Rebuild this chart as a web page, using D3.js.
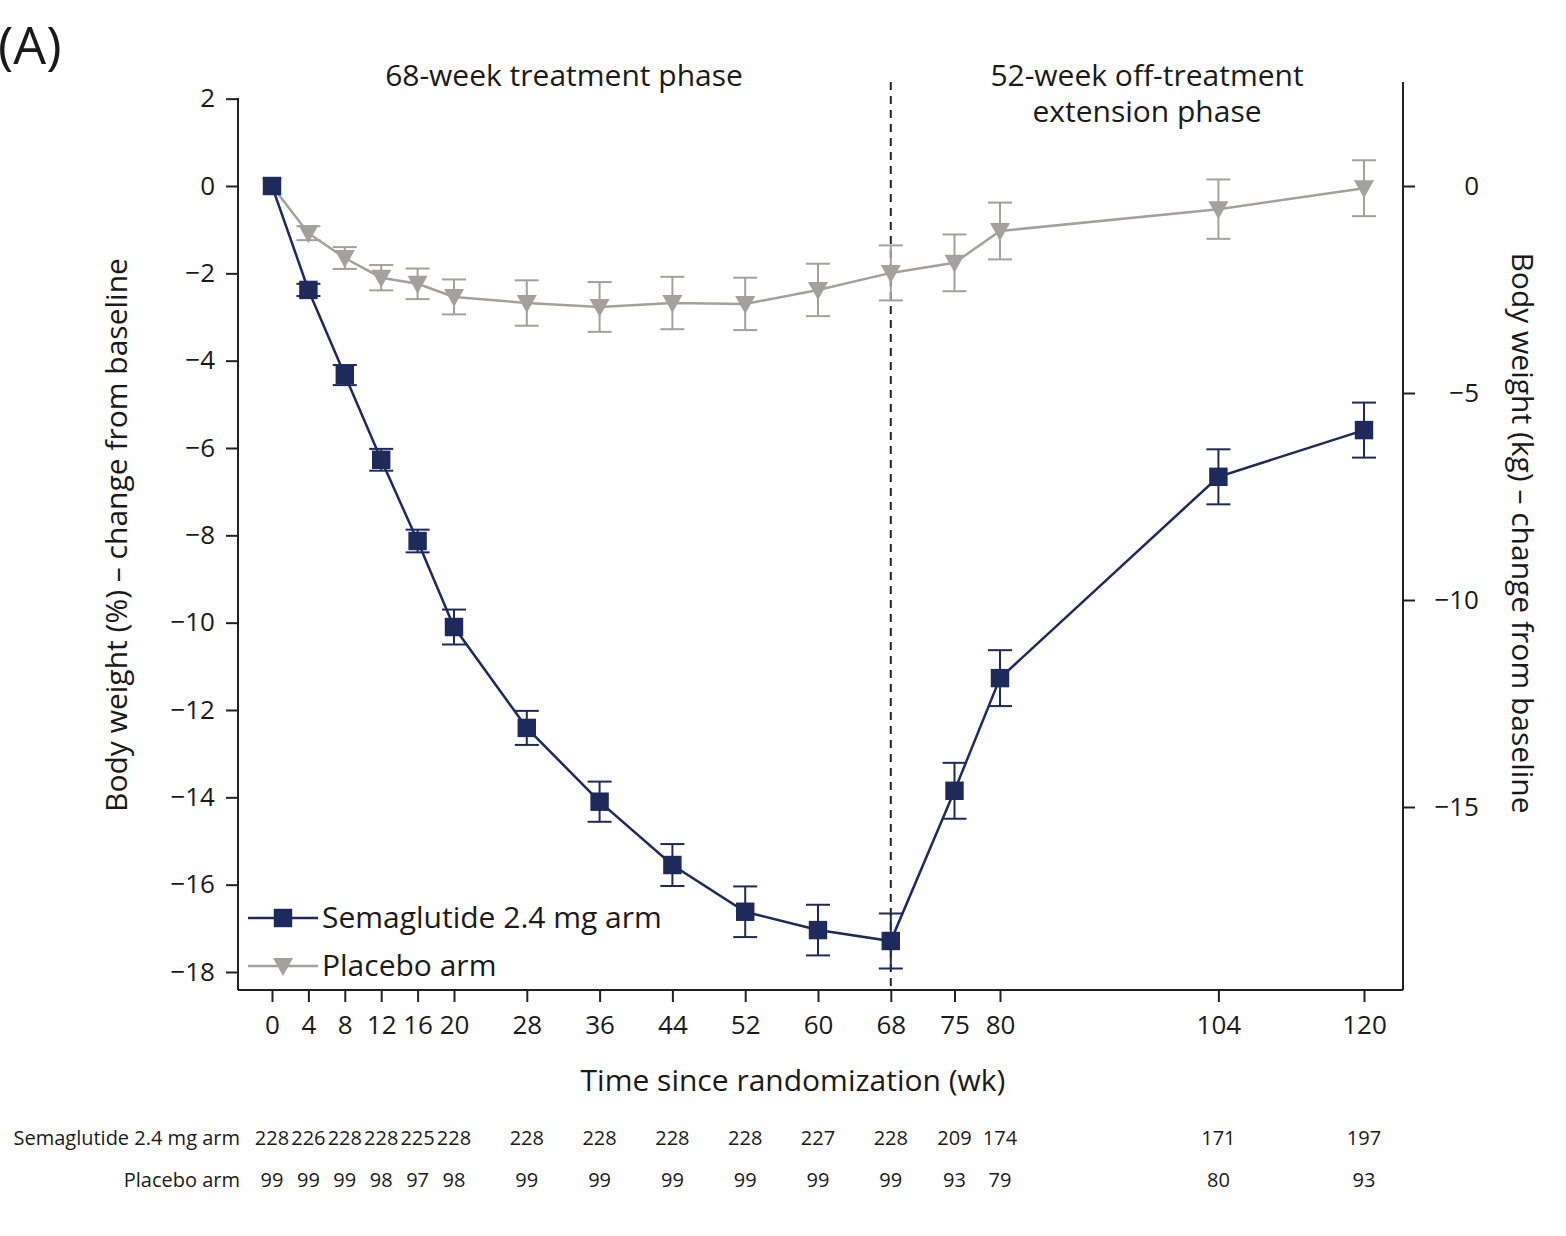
<!DOCTYPE html>
<html><head><meta charset="utf-8">
<script src="https://cdn.jsdelivr.net/npm/d3@7"></script>
<style>body{margin:0;background:#fff}text{font-family:"Open Sans","Noto Sans",sans-serif;fill:#1a1a1a}</style>
</head><body><svg id="c" width="1566" height="1236"></svg>
<script>
// weeks and values
var weeks = [0, 4, 8, 12, 16, 20, 28, 36, 44, 52, 60, 68, 75, 80, 104, 120];
var semaMean = [0, -2.38, -4.33, -6.27, -8.13, -10.1, -12.41, -14.1, -15.55, -16.62, -17.04, -17.29, -13.85, -11.27, -6.66, -5.59];
var semaErr = [0, 0.14, 0.23, 0.25, 0.26, 0.4, 0.39, 0.46, 0.48, 0.58, 0.58, 0.63, 0.64, 0.64, 0.63, 0.63];
var placMean = [0, -1.08, -1.65, -2.1, -2.24, -2.54, -2.68, -2.77, -2.68, -2.7, -2.38, -1.99, -1.76, -1.03, -0.53, -0.05];
var placErr = [0, 0.16, 0.25, 0.29, 0.35, 0.4, 0.52, 0.57, 0.6, 0.6, 0.6, 0.63, 0.65, 0.65, 0.68, 0.64];
var semaN = [228, 226, 228, 228, 225, 228, 228, 228, 228, 228, 227, 228, 209, 174, 171, 197];
var placN = [99, 99, 99, 98, 97, 98, 99, 99, 99, 99, 99, 99, 93, 79, 80, 93];
var leftTicks = [2, 0, -2, -4, -6, -8, -10, -12, -14, -16, -18];
var rightTicks = [0, -5, -10, -15];

var navy = "#1f2a5c", grey = "#a3a19e";
var svg = d3.select("#c");
var x = d3.scaleLinear().domain([0, 120]).range([272, 1364]);
var y = d3.scaleLinear().domain([0, -18]).range([186, 972]);
var yKg = d3.scaleLinear().domain([0, -15]).range([186, 807]);

//----- frame and axes -----
svg.append("line").attr("x1", 238).attr("x2", 1403).attr("y1", 990).attr("y2", 990).attr("stroke", "#222").attr("stroke-width", 2);
svg.append("line").attr("x1", 238).attr("x2", 238).attr("y1", 98).attr("y2", 990).attr("stroke", "#222").attr("stroke-width", 2);
svg.append("line").attr("x1", 1403).attr("x2", 1403).attr("y1", 82).attr("y2", 990).attr("stroke", "#222").attr("stroke-width", 2);

function minus(d){ return String(d).replace("-", "\u2212"); }
var la = svg.append("g").attr("transform", "translate(238,0)").call(d3.axisLeft(y).tickValues(leftTicks).tickSize(12).tickFormat(minus));
la.select(".domain").remove();
var ra = svg.append("g").attr("transform", "translate(1403,0)").call(d3.axisRight(yKg).tickValues(rightTicks).tickSize(12).tickFormat(minus));
ra.select(".domain").remove();
var ba = svg.append("g").attr("transform", "translate(0,990)").call(d3.axisBottom(x).tickValues(weeks).tickSize(12).tickPadding(14));
ba.select(".domain").remove();
[la, ra, ba].forEach(function(a){
  a.selectAll("line").attr("stroke", "#222").attr("stroke-width", 2);
  a.selectAll("text").style("font-size", "26px").attr("fill", "#1a1a1a");
});
la.selectAll("text").attr("dx", "-8");
ra.selectAll("text").attr("x", 76).attr("text-anchor", "end");

svg.append("text").attr("x", 793).attr("y", 1091).attr("text-anchor", "middle").style("font-size", "30px").text("Time since randomization (wk)");
svg.append("text").attr("transform", "translate(127,535) rotate(-90)").attr("text-anchor", "middle").style("font-size", "30px").text("Body weight (%) \u2013 change from baseline");
svg.append("text").attr("transform", "translate(1512,533) rotate(90)").attr("text-anchor", "middle").style("font-size", "30px").text("Body weight (kg) \u2013 change from baseline");

svg.append("text").attr("x", -2).attr("y", 64).style("font-size", "52px").text("(A)");
svg.append("text").attr("x", 564).attr("y", 86).attr("text-anchor", "middle").style("font-size", "30px").text("68-week treatment phase");
svg.append("text").attr("x", 1147).attr("y", 86).attr("text-anchor", "middle").style("font-size", "30px").text("52-week off-treatment");
svg.append("text").attr("x", 1147).attr("y", 122).attr("text-anchor", "middle").style("font-size", "30px").text("extension phase");

svg.append("line").attr("x1", x(68)).attr("x2", x(68)).attr("y1", 82).attr("y2", 990).attr("stroke", "#222").attr("stroke-width", 2).attr("stroke-dasharray", "8,6");

//----- series -----
function drawSeries(mean, err, color, marker) {
  var g = svg.append("g");
  var pts = weeks.map(function(w, i){ return {w: w, m: mean[i], e: err[i]}; });
  g.append("path").datum(pts).attr("fill", "none").attr("stroke", color).attr("stroke-width", 2.5)
    .attr("d", d3.line().x(function(d){return x(d.w);}).y(function(d){return y(d.m);}));
  var eb = g.selectAll(".eb").data(pts.filter(function(d){return d.e > 0;})).enter().append("g");
  eb.append("line").attr("x1", function(d){return x(d.w);}).attr("x2", function(d){return x(d.w);})
    .attr("y1", function(d){return y(d.m + d.e);}).attr("y2", function(d){return y(d.m - d.e);}).attr("stroke", color).attr("stroke-width", 2);
  [1, -1].forEach(function(s){
    eb.append("line").attr("x1", function(d){return x(d.w) - 12;}).attr("x2", function(d){return x(d.w) + 12;})
      .attr("y1", function(d){return y(d.m + s * d.e);}).attr("y2", function(d){return y(d.m + s * d.e);}).attr("stroke", color).attr("stroke-width", 2);
  });
  g.selectAll(".mk").data(pts).enter().append("path")
    .attr("transform", function(d){return "translate(" + x(d.w) + "," + y(d.m) + ")";})
    .attr("d", marker).attr("fill", color);
}
var sq = d3.symbol().type(d3.symbolSquare).size(340)();
var tri = "M-10,-8L10,-8L0,10Z";
drawSeries(placMean, placErr, grey, tri);
drawSeries(semaMean, semaErr, navy, sq);

//----- legend -----
[[navy, sq, "Semaglutide 2.4 mg arm", 918], [grey, tri, "Placebo arm", 966]].forEach(function(l){
  svg.append("line").attr("x1", 248).attr("x2", 318).attr("y1", l[3]).attr("y2", l[3]).attr("stroke", l[0]).attr("stroke-width", 2.5);
  svg.append("path").attr("transform", "translate(283," + l[3] + ")").attr("d", l[1]).attr("fill", l[0]);
  svg.append("text").attr("x", 322).attr("y", l[3] + 10).style("font-size", "30px").text(l[2]);
});

//----- at-risk table -----
[["Semaglutide 2.4 mg arm", semaN, 1145], ["Placebo arm", placN, 1187]].forEach(function(r){
  svg.append("text").attr("x", 240).attr("y", r[2]).attr("text-anchor", "end").style("font-size", "20px").text(r[0]);
  svg.selectAll(null).data(r[1]).enter().append("text")
    .attr("x", function(d, i){return x(weeks[i]);}).attr("y", r[2]).attr("text-anchor", "middle").style("font-size", "20px").text(function(d){return d;});
});
</script></body></html>
